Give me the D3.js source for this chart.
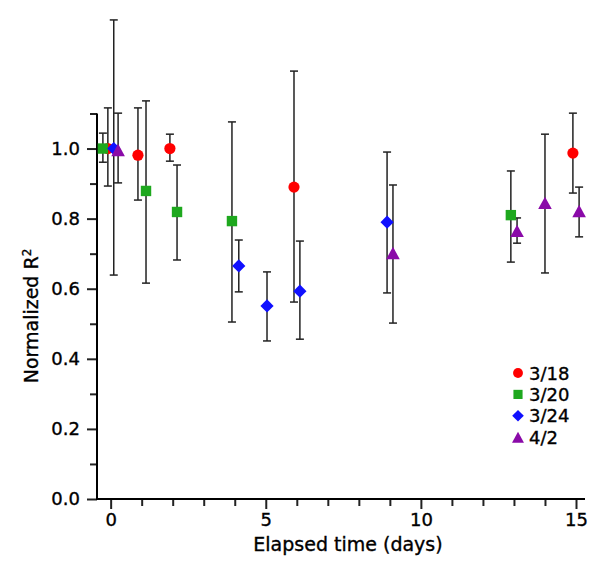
<!DOCTYPE html>
<html>
<head>
<meta charset="utf-8">
<script src="https://cdn.jsdelivr.net/npm/d3@7"></script>
<style>
  html, body { margin: 0; padding: 0; background: #fff; }
  svg { display: block; }
  text { font-family: "DejaVu Sans", sans-serif; fill: #000; stroke: #000; stroke-width: 0.35px; }
</style>
</head>
<body>
<svg id="chart" width="600" height="568"></svg>
<script>
// ---- data ----
const seriesNames = ["3/18", "3/20", "3/24", "4/2"];
const seriesColors = ["#ff0000", "#1ea81e", "#1010ff", "#8a0aa8"];
const seriesShapes = ["circle", "square", "diamond", "triangle"];

// elapsed time (days), normalized R², upper and lower error limits
const days318 = [-0.09, 0.88, 1.91, 5.91, 14.9];
const vals318 = [1.0, 0.981, 1.0, 0.89, 0.987];
const hi318   = [1.116, 1.116, 1.041, 1.221, 1.101];
const lo318   = [0.893, 0.853, 0.964, 0.562, 0.873];

const days320 = [-0.25, 1.14, 2.14, 3.91, 12.9];
const vals320 = [1.0, 0.879, 0.819, 0.793, 0.81];
const hi320   = [1.044, 1.136, 0.953, 1.076, 0.936];
const lo320   = [0.961, 0.616, 0.682, 0.505, 0.676];

const days324 = [0.1, 4.13, 5.04, 6.1, 8.91];
const vals324 = [1.0, 0.665, 0.551, 0.593, 0.79];
const hi324   = [1.367, 0.739, 0.648, 0.736, 0.99];
const lo324   = [0.639, 0.591, 0.451, 0.456, 0.588];

const days402 = [0.24, 9.1, 13.1, 14.0, 15.1];
const vals402 = [0.996, 0.702, 0.765, 0.845, 0.822];
const hi402   = [1.101, 0.896, 0.802, 1.041, 0.89];
const lo402   = [0.902, 0.502, 0.73, 0.645, 0.748];

const xMajorTicks = [0, 5, 10, 15];
const xMinorTicks = [1, 2, 3, 4, 6, 7, 8, 9, 11, 12, 13, 14];
const yMajorTicks = [0.0, 0.2, 0.4, 0.6, 0.8, 1.0];
const yMinorTicks = [0.1, 0.3, 0.5, 0.7, 0.9, 1.1];

const xTitle = "Elapsed time (days)";
const yTitle = "Normalized R";

// ---- build ----
const seriesDays = [days318, days320, days324, days402];
const seriesVals = [vals318, vals320, vals324, vals402];
const seriesHi = [hi318, hi320, hi324, hi402];
const seriesLo = [lo318, lo320, lo324, lo402];
const points = [];
seriesNames.forEach((name, si) => {
  seriesDays[si].forEach((d, i) => {
    points.push({ s: si, d: d, v: seriesVals[si][i], hi: seriesHi[si][i], lo: seriesLo[si][i] });
  });
});

const svg = d3.select("#chart");
const x = d3.scaleLinear().domain([-0.44, 15.29]).range([97, 585]);
const y = d3.scaleLinear().domain([0, 1.1]).range([499, 113.5]);

// marker shapes centered on their bounding box
function markerPath(shape, k) {
  const p = d3.path();
  if (shape === "circle") {
    const r = 5.6 * k; p.arc(0, 0, r, 0, 2 * Math.PI);
  } else if (shape === "square") {
    const h = 5.2 * k; p.rect(-h, -h, 2 * h, 2 * h);
  } else if (shape === "diamond") {
    const h = 6.6 * k; p.moveTo(0, -h); p.lineTo(h, 0); p.lineTo(0, h); p.lineTo(-h, 0); p.closePath();
  } else {
    const w = 6.8 * k, h = 6.2 * k; p.moveTo(0, -h); p.lineTo(w, h); p.lineTo(-w, h); p.closePath();
  }
  return p.toString();
}

// axes
const gx = svg.append("g").attr("transform", `translate(0,${y(0)})`);
gx.call(d3.axisBottom(x).tickValues(xMajorTicks).tickSize(10).tickPadding(4).tickFormat(d3.format("d")));
const gxm = svg.append("g").attr("transform", `translate(0,${y(0)})`);
gxm.call(d3.axisBottom(x).tickValues(xMinorTicks).tickSize(7).tickFormat(""));

const gy = svg.append("g").attr("transform", `translate(${x.range()[0]},0)`);
gy.call(d3.axisLeft(y).tickValues(yMajorTicks).tickSize(10).tickPadding(7).tickFormat(d3.format(".1f")));
const gym = svg.append("g").attr("transform", `translate(${x.range()[0]},0)`);
gym.call(d3.axisLeft(y).tickValues(yMinorTicks).tickSize(7).tickFormat(""));

[gx, gxm, gy, gym].forEach(g => {
  g.selectAll(".domain").remove();
  g.selectAll(".tick line").attr("stroke", "#222").attr("stroke-width", 2);
  g.selectAll(".tick text").style("font-size", "18px").attr("fill", "#000");
});

// axis lines
svg.append("line").attr("x1", x.range()[0]).attr("x2", x.range()[1])
  .attr("y1", y(0)).attr("y2", y(0)).attr("stroke", "#000").attr("stroke-width", 2);
svg.append("line").attr("x1", x.range()[0]).attr("x2", x.range()[0])
  .attr("y1", y(0) + 1).attr("y2", y.range()[1]).attr("stroke", "#000").attr("stroke-width", 2);

// titles
svg.append("text").attr("x", 348).attr("y", 551).attr("text-anchor", "middle")
  .style("font-size", "19px").text(xTitle);
const yt = svg.append("text").attr("transform", "translate(38,316) rotate(-90)")
  .attr("text-anchor", "middle").style("font-size", "19px");
yt.append("tspan").text(yTitle);
yt.append("tspan").attr("dy", -7).style("font-size", "12px").text("2");

// error bars
const eb = svg.append("g");
const capW = 4;
points.forEach(p => {
  const px = x(p.d);
  eb.append("line").attr("x1", px).attr("x2", px).attr("y1", y(p.hi)).attr("y2", y(p.lo))
    .attr("stroke", "#222").attr("stroke-width", 1.5);
  [p.hi, p.lo].forEach(v => {
    eb.append("line").attr("x1", px - capW).attr("x2", px + capW).attr("y1", y(v)).attr("y2", y(v))
      .attr("stroke", "#222").attr("stroke-width", 1.5);
  });
});

// markers
const mk = svg.append("g");
points.forEach(p => {
  mk.append("path")
    .attr("d", markerPath(seriesShapes[p.s], 1))
    .attr("transform", `translate(${x(p.d)},${y(p.v)})`)
    .attr("fill", seriesColors[p.s]);
});

// legend
const lg = svg.append("g");
seriesNames.forEach((name, i) => {
  const ly = 373 + i * 21.4;
  lg.append("path")
    .attr("d", markerPath(seriesShapes[i], 0.88))
    .attr("transform", `translate(518,${ly})`)
    .attr("fill", seriesColors[i]);
  lg.append("text").attr("x", 529).attr("y", ly + 6.5).style("font-size", "18px").text(name);
});
</script>
</body>
</html>
